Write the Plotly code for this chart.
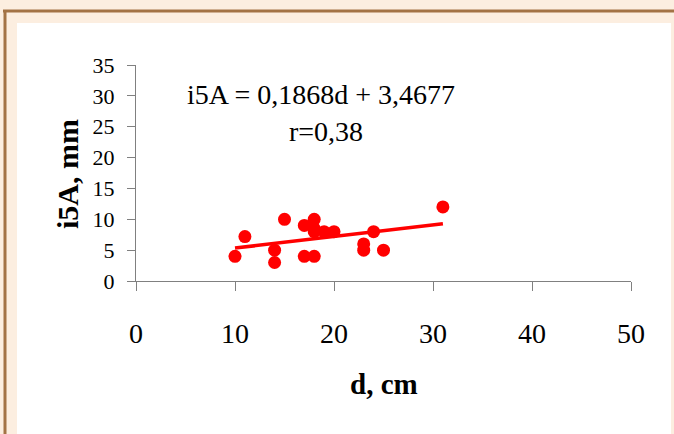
import plotly.graph_objects as go

# Data
d_cm = [10, 11, 14, 14, 15, 17, 17, 18, 18, 18, 18, 19, 20, 23, 23, 24, 25, 31]
i5a_mm = [4, 7.2, 5, 3, 10, 9, 4, 10, 8.5, 8, 4, 8, 8, 6, 5, 8, 5, 12]
slope = 0.1868
intercept = 3.4677
x_ticks = [0, 10, 20, 30, 40, 50]
y_ticks = [0, 5, 10, 15, 20, 25, 30, 35]

W, H = 674, 434
L, R, T, B = 136, 43, 65, 153
pw, ph = W - L - R, H - T - B

def px(x):
    return (x - L) / pw

def py(y):
    return (H - B - y) / ph

fit_x = [min(d_cm), max(d_cm)]
fit_y = [slope * v + intercept for v in fit_x]

serif = "Liberation Serif, Times New Roman, serif"
cream = "#FCEEE0"
brown = "#A37345"

fig = go.Figure()
fig.add_trace(go.Scatter(x=d_cm, y=i5a_mm, mode="markers",
                         marker=dict(color="#FF0000", size=13), showlegend=False))
fig.add_trace(go.Scatter(x=fit_x, y=fit_y, mode="lines",
                         line=dict(color="#FF0000", width=3.5), showlegend=False))

fig.update_layout(
    width=W, height=H,
    margin=dict(l=L, r=R, t=T, b=B, pad=0),
    paper_bgcolor=cream, plot_bgcolor="white",
    font=dict(family=serif, color="black"),
    xaxis=dict(range=[0, 50], tickvals=x_ticks, ticks="outside", ticklen=9,
               tickcolor="#808080", showline=True, linecolor="#808080", linewidth=1,
               showgrid=False, zeroline=False, tickfont=dict(size=28, family=serif),
               ticklabelstandoff=18),
    yaxis=dict(range=[0, 35], tickvals=y_ticks, ticks="outside", ticklen=8,
               tickcolor="#808080", showline=True, linecolor="#808080", linewidth=1,
               showgrid=False, zeroline=False, tickfont=dict(size=22, family=serif),
               ticklabelstandoff=8),
    shapes=[
        dict(type="rect", xref="paper", yref="paper", x0=px(17), x1=px(671),
             y0=py(23), y1=py(440), fillcolor="white", line=dict(width=0), layer="below"),
        dict(type="line", xref="paper", yref="paper", x0=px(3), x1=px(680),
             y0=py(11), y1=py(11), line=dict(color=brown, width=3), layer="below"),
        dict(type="line", xref="paper", yref="paper", x0=px(5), x1=px(5),
             y0=py(10), y1=py(440), line=dict(color=brown, width=3), layer="below"),
    ],
    annotations=[
        dict(text="i5A = 0,1868d + 3,4677", xref="paper", yref="paper",
             x=px(321), y=py(95), showarrow=False, xanchor="center", yanchor="middle",
             font=dict(size=28, family=serif)),
        dict(text="r=0,38", xref="paper", yref="paper",
             x=px(326), y=py(131), showarrow=False, xanchor="center", yanchor="middle",
             font=dict(size=28, family=serif)),
        dict(text="<b>d, cm</b>", xref="paper", yref="paper",
             x=px(384), y=py(384), showarrow=False, xanchor="center", yanchor="middle",
             font=dict(size=29, family=serif)),
        dict(text="<b>i5A, mm</b>", xref="paper", yref="paper", textangle=-90,
             x=px(67), y=py(174), showarrow=False, xanchor="center", yanchor="middle",
             font=dict(size=30, family=serif)),
    ],
)

fig.write_html("out.html")
